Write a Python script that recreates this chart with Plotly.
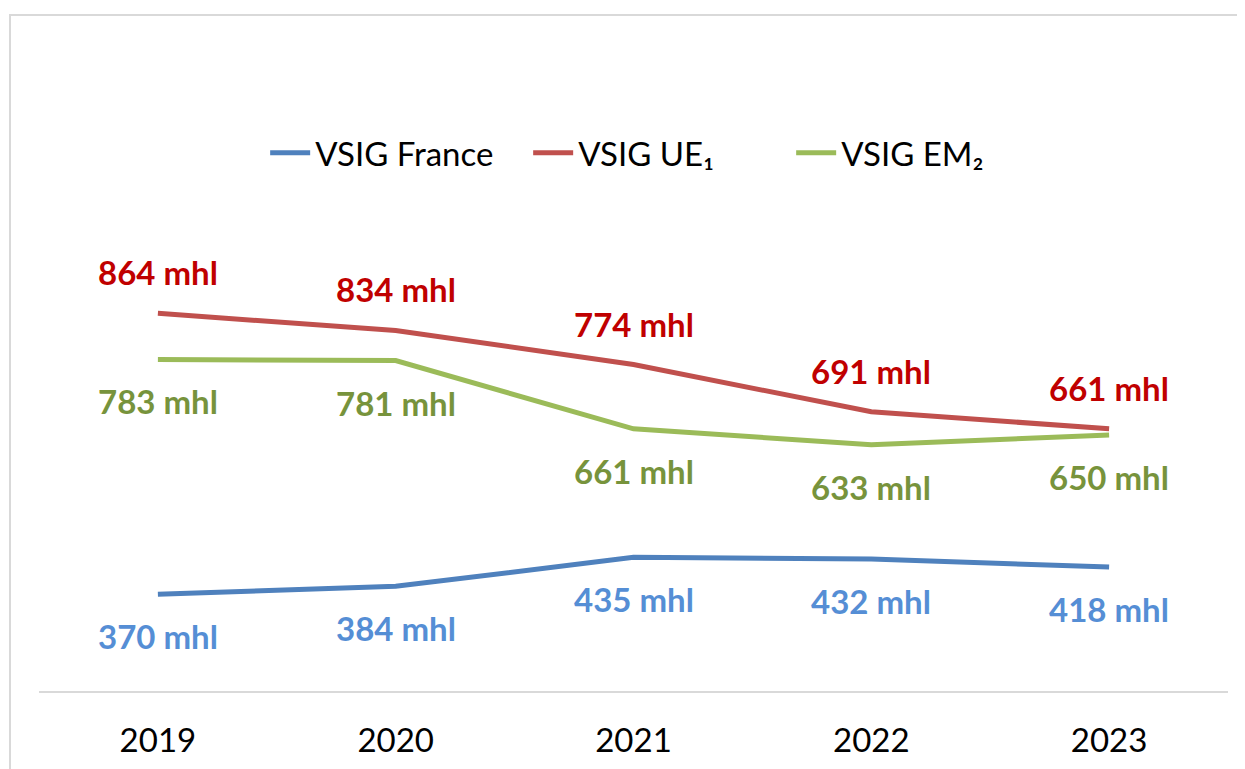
import plotly.graph_objects as go

years = ["2019", "2020", "2021", "2022", "2023"]
vsig_france = [370, 384, 435, 432, 418]
vsig_ue = [864, 834, 774, 691, 661]
vsig_em = [783, 781, 661, 633, 650]

series = [
    # name, values, line colour, label colour, label shift
    ("VSIG France", vsig_france, "#4F81BD", "#558ED5", -42),
    ("VSIG UE₁", vsig_ue, "#C0504D", "#C00000", 41),
    ("VSIG EM₂", vsig_em, "#9BBB59", "#77933C", -42),
]

fig = go.Figure()
for name, vals, col, lcol, shift in series:
    fig.add_scatter(x=years, y=vals, name=name, mode="lines",
                    line=dict(color=col, width=5))
    # category axis: annotations placed by index (numeric strings would be read as numbers)
    for i, v in enumerate(vals):
        fig.add_annotation(x=i, y=v, text=f"<b>{v} mhl</b>", showarrow=False,
                           yshift=shift,
                           font=dict(family="Lato", size=33, color=lcol))

# chart frame (light grey, left and top edges visible)
fig.add_shape(type="rect", xref="paper", yref="paper",
              x0=-0.0244, x1=1.2, y0=-0.4, y1=1.4857,
              line=dict(color="#D9D9D9", width=2), layer="below")

# page body has an 8px margin, so the figure is 8px smaller and margins are shifted
fig.update_layout(
    width=1237, height=761,
    margin=dict(l=31, r=17, t=228, b=78),
    paper_bgcolor="white",
    plot_bgcolor="white",
    font=dict(family="Lato", color="black"),
    showlegend=True,
    legend=dict(orientation="h", x=0.522, xanchor="center", y=1.183, yanchor="middle",
                font=dict(size=33, color="black"), itemwidth=40, entrywidth=208,
                bgcolor="rgba(0,0,0,0)"),
    xaxis=dict(type="category", range=[-0.5, 4.5], showline=True, linecolor="#D9D9D9",
               linewidth=1.5, showgrid=False, ticks="", ticklabelstandoff=20,
               tickfont=dict(size=33, color="black"), fixedrange=True, automargin=False),
    yaxis=dict(range=[200, 1000], showgrid=False, showline=False, zeroline=False,
               showticklabels=False, fixedrange=True, automargin=False),
)
fig.write_html("out.html")
